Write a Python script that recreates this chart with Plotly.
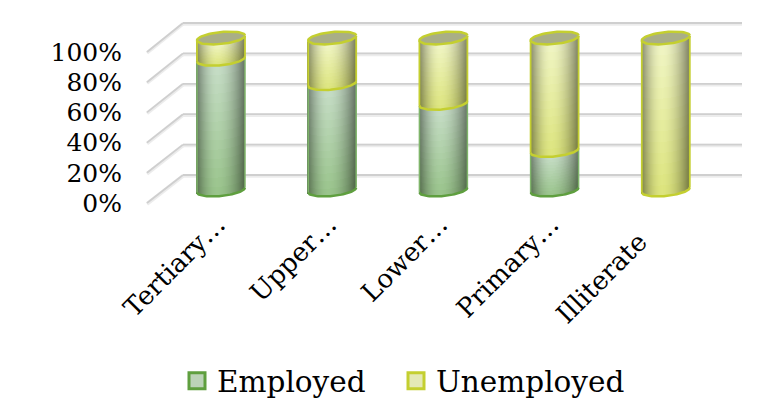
import math
import plotly.graph_objects as go

categories = ["Tertiary…", "Upper…", "Lower…", "Primary…", "Illiterate"]
employed = [86, 70, 57, 26, 0]
unemployed = [14, 30, 43, 74, 100]
percent_ticks = [0, 20, 40, 60, 80, 100]
label_shift = [-0.03, -0.03, -0.03, -0.03, -0.08]
label_pad = ["", "", "", "", "\u00a0\u00a0\u00a0"]

W, H = 757, 401
L, R, T, B = 147, 742, 20, 205      # plot area, px
STEP = 111.2                        # px per category
X0 = 221                            # px of first category
FONT = "DejaVu Serif"

def xpaper(px): return (px - L) / (R - L)
def ypaper(py): return (B - py) / (B - T)

x_range = [(L - X0) / STEP, (R - X0) / STEP]
CY0, CS = 190.0, 1.52
y2_range = [(CY0 - B) / CS, (CY0 - T) / CS]
TY0, TS = 203.0, 1.51
y1_range = [(TY0 - B) / TS, (TY0 - T) / TS]
BACK_Y0, BACK_S = 175.0, 1.52

A = 24.0
EH = 6.0
TILT = 2.4
N_STRIPS = 48
N_SEG = 14

def front_off(u):
    return EH * math.sqrt(max(0, 1 - u * u)) - TILT * u

def shade(u):
    u0 = -0.12
    d = (u - u0) / (1 - u0) if u > u0 else (u0 - u) / (1 + u0)
    return 1 - 0.46 * d ** 1.9

def mix(c0, c1, t):
    return [c0[i] + (c1[i] - c0[i]) * t for i in range(3)]

def cyl_trace(lows, highs, top_col, bot_col, name):
    xs, bases, ys, cols, widths = [], [], [], [], []
    for i in range(len(categories)):
        if highs[i] - lows[i] <= 0:
            continue
        for k in range(N_STRIPS):
            u = -1 + (k + 0.5) * 2 / N_STRIPS
            off = front_off(u) / CS
            f = shade(u)
            for j in range(N_SEG):
                t0 = j / N_SEG
                t1 = (j + 1) / N_SEG
                v0 = lows[i] + (highs[i] - lows[i]) * t0
                v1 = lows[i] + (highs[i] - lows[i]) * t1
                c = mix(bot_col, top_col, (t0 + t1) / 2)
                xs.append(i + u * A / STEP)
                bases.append(v0 - off)
                ys.append(v1 - v0 + (0.4 if j < N_SEG - 1 else 0))
                cols.append("rgb(%d,%d,%d)" % tuple(round(x * f) for x in c))
                widths.append(1.5 * 2 * A / N_STRIPS / STEP)
    return go.Bar(x=xs, y=ys, base=bases, width=widths, marker=dict(color=cols, line=dict(width=0)),
                  yaxis="y2", showlegend=False, hoverinfo="skip", name=name)

def arc(i, v, lo=0.0, hi=math.pi, n=40):
    xs, ys = [], []
    for m in range(n + 1):
        a = lo + (hi - lo) * m / n
        xs.append(i + A * math.cos(a) / STEP)
        ys.append(v - (EH * math.sin(a) - TILT * math.cos(a)) / CS)
    return xs, ys

GREEN_LINE = "#5f9f3f"
YELLOW_LINE = "#c4cf30"

fig = go.Figure()
lows_e = [0] * len(categories)
fig.add_trace(cyl_trace(lows_e, employed, (198, 221, 198), (152, 195, 138), "Employed"))
tops = [e + u for e, u in zip(employed, unemployed)]
fig.add_trace(cyl_trace(employed, tops, (240, 245, 196), (220, 228, 124), "Unemployed"))

def line_trace(xs, ys, color, width):
    return go.Scatter(x=xs, y=ys, mode="lines", yaxis="y2", showlegend=False, hoverinfo="skip",
                      line=dict(color=color, width=width))

for i in range(len(categories)):
    if employed[i] > 0:
        xb, yb = arc(i, 0)
        fig.add_trace(line_trace(xb, yb, GREEN_LINE, 2.5))
        for s in (-1, 1):
            xe = i + s * A / STEP
            dy = s * TILT / CS
            fig.add_trace(line_trace([xe, xe], [0 + dy, employed[i] + dy], "#7fb56a", 1.5))
    else:
        xb, yb = arc(i, 0)
        fig.add_trace(line_trace(xb, yb, YELLOW_LINE, 2.5))
    for s in (-1, 1):
        xe = i + s * A / STEP
        dy = s * TILT / CS
        fig.add_trace(line_trace([xe, xe], [employed[i] + dy, tops[i] + dy], YELLOW_LINE, 1.8))
    if employed[i] > 0:
        xb, yb = arc(i, employed[i])
        fig.add_trace(line_trace(xb, yb, YELLOW_LINE, 2.5))
    xt, yt = arc(i, tops[i], 0, 2 * math.pi, 60)
    fig.add_trace(go.Scatter(x=xt, y=yt, mode="lines", fill="toself", fillcolor="#a9ae87", yaxis="y2",
                             showlegend=False, hoverinfo="skip", line=dict(color=YELLOW_LINE, width=2.5)))

fig.add_trace(go.Scatter(x=[None], y=[None], mode="markers", name="Employed", legend="legend",
                         marker=dict(symbol="square", size=16, color="#bcd3b8", line=dict(color="#5f9f3f", width=3))))
fig.add_trace(go.Scatter(x=[None], y=[None], mode="markers", name="Unemployed", legend="legend2",
                         marker=dict(symbol="square", size=16, color="#e4e9b6", line=dict(color="#c4cf30", width=3))))

shapes = []
def wall_line(x0, y0, x1, y1):
    for col, w, d in (("#ececec", 3.5, 1), ("#cfcfcf", 1.8, 0)):
        shapes.append(dict(type="line", xref="paper", yref="paper", layer="below",
                           x0=xpaper(x0), y0=ypaper(y0 + d), x1=xpaper(x1), y1=ypaper(y1 + d),
                           line=dict(color=col, width=w)))
for v in percent_ticks:
    yb = BACK_Y0 - BACK_S * v
    wall_line(183, yb, R, yb)
    wall_line(L, TY0 - TS * v, 183, yb)

legend_style = dict(orientation="h", xanchor="left", y=(B - 355) / (B - T), yanchor="top",
                    font=dict(size=29.5), itemsizing="trace", bgcolor="rgba(0,0,0,0)")

fig.update_layout(
    width=W, height=H, autosize=False, template="none",
    margin=dict(l=L, r=W - R, t=T, b=H - B, pad=0, autoexpand=False),
    paper_bgcolor="white", plot_bgcolor="rgba(0,0,0,0)",
    barmode="overlay", bargap=0,
    font=dict(family=FONT, color="#000000", size=25),
    shapes=shapes,
    xaxis=dict(range=x_range, tickmode="array", tickvals=[i + s for i, s in enumerate(label_shift)],
               ticktext=[c + p for c, p in zip(categories, label_pad)],
               tickangle=-45, showgrid=False, zeroline=False, showline=False, ticks="", automargin=False,
               ticklabelstandoff=-2, tickfont=dict(size=26)),
    yaxis=dict(range=y1_range, tickmode="array", tickvals=percent_ticks, ticktext=[f"{v}%" for v in percent_ticks],
               showgrid=False, zeroline=False, showline=False, ticks="", ticklabelstandoff=24, automargin=False,
               tickfont=dict(size=25)),
    yaxis2=dict(range=y2_range, overlaying="y", visible=False),
    legend=dict(x=(177 - L) / (R - L), **legend_style),
    legend2=dict(x=(396 - L) / (R - L), **legend_style),
    showlegend=True,
)
fig.write_html("out.html", config=dict(displayModeBar=False),
               post_script="document.body.style.margin='0';document.documentElement.style.overflow='hidden';")
